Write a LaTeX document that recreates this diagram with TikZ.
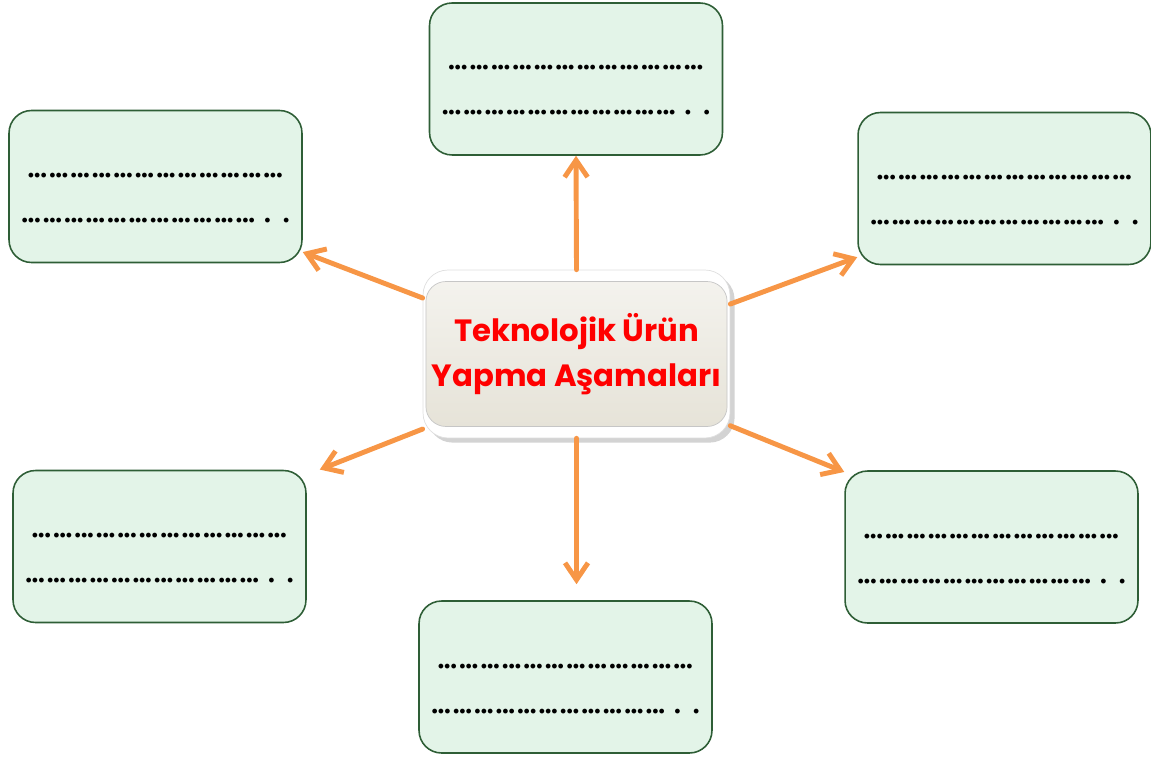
\documentclass[tikz,border=0pt]{standalone}
\usepackage{fontspec}
\setmainfont{Fira Sans}
\newfontfamily\titlefont{Poppins}
\usetikzlibrary{arrows.meta,shadows,calc}
\definecolor{slotfill}{HTML}{E3F4E8}
\definecolor{slotedge}{HTML}{2E5E36}
\definecolor{hubfill}{HTML}{E6E3D8}
\definecolor{linkorange}{HTML}{F79646}
\newcommand\dotrun[1]{\foreach \i in {1,...,#1}{...\kern1.4pt}}
\tikzset{
    slot/.style={draw=slotedge, fill=slotfill, line width=0.9pt, rounded corners=0.45cm, minimum width=5.86cm, minimum height=3.04cm},
    dotrow/.style={anchor=base, inner sep=0pt, font=\bfseries\fontsize{15}{16}\selectfont},
    hubframe/.style={fill=white, draw=gray!25, rounded corners=0.5cm, minimum width=6.14cm, minimum height=3.36cm, drop shadow={opacity=0.35}},
    hubcore/.style={top color=hubfill!45!white, bottom color=hubfill, draw=gray!45, rounded corners=0.4cm, minimum width=5.74cm, minimum height=2.9cm, text=red, align=center, font=\titlefont\bfseries\fontsize{17.5}{26}\selectfont},
    link/.style={-{Straight Barb[length=0.34cm, width=0.46cm]}, line width=2.8pt, linkorange, line cap=round}
}

\begin{document}
\begin{tikzpicture}[x=0.02cm, y=-0.02cm]
            \useasboundingbox (0,0) rectangle (1151,763);
            % answer boxes
            \node[slot] (top) at (576,79) {};
            \node[slot] (tl) at (155.5,186.5) {};
            \node[slot] (tr) at (1004.5,188.5) {};
            \node[slot] (bl) at (159.5,546.5) {};
            \node[slot] (br) at (991.5,547) {};
            \node[slot] (bot) at (565.5,677) {};
            \foreach \b in {top,tl,tr,bl,br,bot} {
                \node[dotrow] (\b-a) at ($(\b)+(1,-9)$) {\dotrun{12}};
                \node[dotrow] (\b-b) at ($(\b)+(0,36)$) {\dotrun{11}\kern4pt.\kern7pt.};
            }
            
            % centre
            \node[hubframe] (hub) at (576.5,354) {};
            \node[hubcore] (hubtext) at (hub) {Teknolojik Ürün\\Yapma Aşamaları};
            
            % arrows
            \draw[link] (hub.north) -- (top.south);
            \draw[link, shorten >=0.32cm] (hub.south) -- (hub.south |- bot.north);
            \draw[link] (hub.160) -- (tl.-24);
            \draw[link] (hub.18) -- (tr.205);
            \draw[link, shorten >=0.28cm] (hub.206) -- (bl.26);
            \draw[link] (hub.-25) -- (br.153);
\end{tikzpicture}
\end{document}
